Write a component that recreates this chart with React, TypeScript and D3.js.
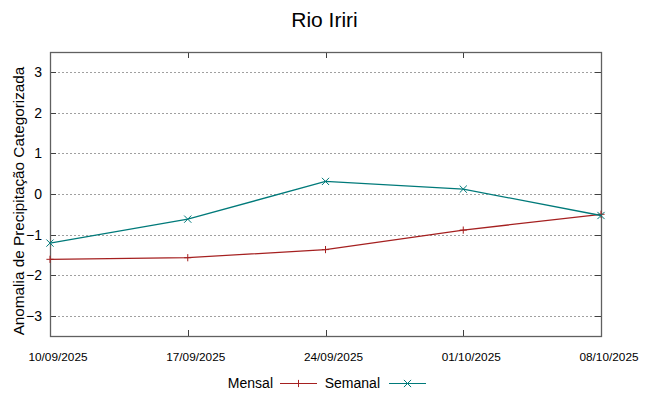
import { useEffect, useRef } from "react";
import * as d3 from "d3";

const dates = ["10/09/2025", "17/09/2025", "24/09/2025", "01/10/2025", "08/10/2025"];
const mensal = [-1.61, -1.57, -1.37, -0.89, -0.5];
const semanal = [-1.21, -0.62, 0.31, 0.12, -0.53];
const yTicks = [-3, -2, -1, 0, 1, 2, 3];

const W = 649,
  H = 396;
const margin = { top: 52, right: 48, bottom: 60, left: 50 };
const font = "'Liberation Sans', Arial, sans-serif";
const redColor = "#a52020";
const tealColor = "#007a7a";

const App = () => {
  const ref = useRef<SVGSVGElement>(null);

  useEffect(() => {
    const parse = d3.timeParse("%d/%m/%Y");
    const days = dates.map((d) => parse(d) as Date);

    const svg = d3.select(ref.current);
    svg.selectAll("*").remove();

    const x = d3
      .scaleTime()
      .domain(d3.extent(days) as [Date, Date])
      .range([margin.left, W - margin.right]);
    const y = d3
      .scaleLinear()
      .domain([-3.5, 3.5])
      .range([H - margin.bottom, margin.top]);

    const x0 = margin.left,
      x1 = W - margin.right,
      yTop = margin.top,
      yBot = H - margin.bottom;

    // title
    svg
      .append("text")
      .attr("x", W / 2)
      .attr("y", 27)
      .attr("text-anchor", "middle")
      .attr("font-family", font)
      .attr("font-size", 21)
      .attr("fill", "#000")
      .text("Rio Iriri");

    // grid
    svg
      .append("g")
      .selectAll("line")
      .data(yTicks)
      .join("line")
      .attr("x1", x0)
      .attr("x2", x1)
      .attr("y1", (d) => Math.round(y(d)) + 0.5)
      .attr("y2", (d) => Math.round(y(d)) + 0.5)
      .attr("stroke", "#a0a0a0")
      .attr("stroke-width", 1)
      .attr("stroke-dasharray", "2,2");

    // ticks inside border (left/right for y, bottom/top for x)
    const tk = svg.append("g").attr("stroke", "#404040").attr("stroke-width", 1);
    yTicks.forEach((t) => {
      const yy = Math.round(y(t)) + 0.5;
      tk.append("line").attr("x1", x0).attr("x2", x0 + 6).attr("y1", yy).attr("y2", yy);
      tk.append("line").attr("x1", x1 - 6).attr("x2", x1).attr("y1", yy).attr("y2", yy);
    });
    days.forEach((d) => {
      const xx = Math.round(x(d)) + 0.5;
      tk.append("line").attr("x1", xx).attr("x2", xx).attr("y1", yBot).attr("y2", yBot - 6);
      tk.append("line").attr("x1", xx).attr("x2", xx).attr("y1", yTop).attr("y2", yTop + 6);
    });

    // border
    svg
      .append("rect")
      .attr("x", x0 + 0.5)
      .attr("y", yTop + 0.5)
      .attr("width", x1 - x0)
      .attr("height", yBot - yTop)
      .attr("fill", "none")
      .attr("stroke", "#606060")
      .attr("stroke-width", 1.3);

    // y tick labels
    svg
      .append("g")
      .selectAll("text")
      .data(yTicks)
      .join("text")
      .attr("x", 42)
      .attr("y", (d) => y(d) + 5)
      .attr("text-anchor", "end")
      .attr("font-family", font)
      .attr("font-size", 14)
      .attr("fill", "#000")
      .text((d) => d3.format("d")(d));

    // x tick labels (shifted a bit right, like the original)
    svg
      .append("g")
      .selectAll("text")
      .data(days)
      .join("text")
      .attr("x", (d) => x(d) + 8)
      .attr("y", 361)
      .attr("text-anchor", "middle")
      .attr("font-family", font)
      .attr("font-size", 11.8)
      .attr("fill", "#000")
      .text((d, i) => dates[i]);

    // y axis label
    svg
      .append("text")
      .attr("transform", `translate(24,${(yTop + yBot) / 2 + 7}) rotate(-90)`)
      .attr("text-anchor", "middle")
      .attr("font-family", font)
      .attr("font-size", 15.3)
      .attr("fill", "#000")
      .text("Anomalia de Precipitação Categorizada");

    const line = d3
      .line<number>()
      .x((d, i) => x(days[i]))
      .y((d) => y(d));

    const drawMarker = (g: any, cx: number, cy: number, marker: "plus" | "cross") => {
      const s = 3.6;
      if (marker === "plus") {
        g.append("line").attr("x1", cx - s).attr("x2", cx + s).attr("y1", cy).attr("y2", cy);
        g.append("line").attr("x1", cx).attr("x2", cx).attr("y1", cy - s).attr("y2", cy + s);
      } else {
        g.append("line").attr("x1", cx - s).attr("x2", cx + s).attr("y1", cy - s).attr("y2", cy + s);
        g.append("line").attr("x1", cx - s).attr("x2", cx + s).attr("y1", cy + s).attr("y2", cy - s);
      }
    };

    const drawSeries = (vals: number[], color: string, marker: "plus" | "cross") => {
      svg
        .append("path")
        .datum(vals)
        .attr("fill", "none")
        .attr("stroke", color)
        .attr("stroke-width", 1.3)
        .attr("d", line);
      const g = svg.append("g").attr("stroke", color).attr("stroke-width", 1);
      vals.forEach((v, i) => {
        drawMarker(g, x(days[i]), y(v), marker);
      });
    };

    drawSeries(mensal, redColor, "plus");
    drawSeries(semanal, tealColor, "cross");

    // legend
    const legY = 383;
    const legend = [
      { name: "Mensal", color: redColor, marker: "plus" as const, tx: 273, lx: 280 },
      { name: "Semanal", color: tealColor, marker: "cross" as const, tx: 380, lx: 389 },
    ];
    legend.forEach((l) => {
      svg
        .append("text")
        .attr("x", l.tx)
        .attr("y", legY + 5)
        .attr("text-anchor", "end")
        .attr("font-family", font)
        .attr("font-size", 14)
        .attr("fill", "#000")
        .text(l.name);
      svg
        .append("line")
        .attr("x1", l.lx)
        .attr("x2", l.lx + 37)
        .attr("y1", legY + 0.5)
        .attr("y2", legY + 0.5)
        .attr("stroke", l.color)
        .attr("stroke-width", 1.2);
      const g = svg.append("g").attr("stroke", l.color).attr("stroke-width", 1);
      drawMarker(g, l.lx + 18.5, legY + 0.5, l.marker);
    });
  }, []);

  return (
    <svg
      ref={ref}
      width={W}
      height={H}
      style={{ position: "absolute", left: 0, top: 0, background: "#fff" }}
    />
  );
};

export default App;
